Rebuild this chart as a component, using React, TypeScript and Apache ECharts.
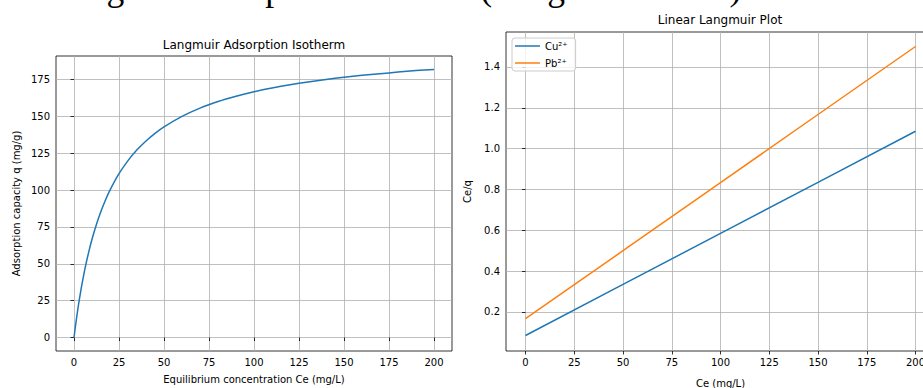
import React, { useEffect, useRef } from "react";
import * as echarts from "echarts";

const mainTitle = "Drawing 2 - Adsorption isotherm (Langmuir model)";
const leftTitle = "Langmuir Adsorption Isotherm";
const rightTitle = "Linear Langmuir Plot";

// Left panel: isotherm curve
const ceCurve = [0, 1, 2, 3, 4, 6, 8, 10, 12.5, 15, 17.5, 20, 25, 30, 35, 40, 45, 50, 60, 70, 80, 90, 100, 110, 120, 130, 140, 150, 160, 170, 180, 190, 200];
const qCurve = [0, 9.5, 18.2, 26.1, 33.3, 46.2, 57.1, 66.7, 76.9, 85.7, 93.3, 100, 111.1, 120, 127.3, 133.3, 138.5, 142.9, 150, 155.6, 160, 163.6, 166.7, 169.2, 171.4, 173.3, 175, 176.5, 177.8, 178.9, 180, 181, 181.8];

// Right panel: linearized lines
const ceLinear = [0, 50, 100, 150, 200];
const cuRatio = [0.085, 0.335, 0.585, 0.835, 1.085];
const pbRatio = [0.167, 0.5, 0.833, 1.167, 1.5];

const xTicks = [0, 25, 50, 75, 100, 125, 150, 175, 200];
const qTicks = [0, 25, 50, 75, 100, 125, 150, 175];
const ratioTicks = [0.2, 0.4, 0.6, 0.8, 1.0, 1.2, 1.4];

const seriesNames = ["Cu²⁺", "Pb²⁺"];

const FONT = "DejaVu Sans";

function axisCommon(ticks: number[], fmt?: (v: number) => string) {
  return {
    axisLine: { show: false },
    axisTick: { show: true, inside: false, length: 3.5, customValues: ticks, lineStyle: { color: "#000", width: 0.8 } },
    axisLabel: {
      show: true,
      customValues: ticks,
      margin: 6,
      color: "#000",
      fontSize: 10,
      fontFamily: FONT,
      formatter: fmt ? (v: number) => fmt(v) : undefined,
    },
    splitLine: { show: true, lineStyle: { color: "#b0b0b0", width: 0.8 } },
    nameTextStyle: { color: "#000", fontSize: 10, fontFamily: FONT },
  };
}

export default function App() {
  const ref = useRef<HTMLDivElement>(null);
  useEffect(() => {
    if (!ref.current) return;
    const chart = echarts.init(ref.current, null, { renderer: "svg" });
    const option: any = {
      animation: false,
      backgroundColor: "#fff",
      grid: [
        { left: 56, top: 56, width: 396, height: 295, show: true, borderColor: "#000", borderWidth: 0.8, backgroundColor: "transparent", outerBoundsMode: "none", containLabel: false },
        { left: 506, top: 32, width: 429, height: 319, show: true, borderColor: "#000", borderWidth: 0.8, backgroundColor: "transparent", outerBoundsMode: "none", containLabel: false },
      ],
      xAxis: [
        {
          type: "value", gridIndex: 0, min: -10, max: 210,
          name: "Equilibrium concentration Ce (mg/L)", nameLocation: "middle", nameGap: 23,
          ...axisCommon(xTicks),
        },
        {
          type: "value", gridIndex: 1, min: -10, max: 210,
          name: "Ce (mg/L)", nameLocation: "middle", nameGap: 27,
          ...axisCommon(xTicks),
        },
      ],
      yAxis: [
        {
          type: "value", gridIndex: 0, min: -9.09, max: 190.9,
          name: "Adsorption capacity q (mg/g)", nameLocation: "middle", nameGap: 35,
          ...axisCommon(qTicks),
        },
        {
          type: "value", gridIndex: 1, min: 0.009, max: 1.571,
          name: "Ce/q", nameLocation: "middle", nameGap: 34,
          ...axisCommon(ratioTicks, (v) => v.toFixed(1)),
        },
      ],
      legend: {
        orient: "vertical",
        left: 512,
        top: 38,
        data: seriesNames,
        icon: "rect",
        itemWidth: 25,
        itemHeight: 1.5,
        itemGap: 7,
        itemTextGap: 10,
        padding: [3, 8, 3, 3],
        backgroundColor: "rgba(255,255,255,0.8)",
        borderColor: "#cccccc",
        borderWidth: 1,
        borderRadius: 3,
        textStyle: { color: "#000", fontSize: 10, fontFamily: FONT },
      },
      series: [
        {
          type: "line", name: "curve", xAxisIndex: 0, yAxisIndex: 0,
          data: ceCurve.map((c, i) => [c, qCurve[i]]),
          showSymbol: false, smooth: 0.2,
          lineStyle: { color: "#1f77b4", width: 1.5 }, itemStyle: { color: "#1f77b4" },
        },
        {
          type: "line", name: seriesNames[0], xAxisIndex: 1, yAxisIndex: 1,
          data: ceLinear.map((c, i) => [c, cuRatio[i]]),
          showSymbol: false,
          lineStyle: { color: "#1f77b4", width: 1.5 }, itemStyle: { color: "#1f77b4" },
        },
        {
          type: "line", name: seriesNames[1], xAxisIndex: 1, yAxisIndex: 1,
          data: ceLinear.map((c, i) => [c, pbRatio[i]]),
          showSymbol: false,
          lineStyle: { color: "#ff7f0e", width: 1.5 }, itemStyle: { color: "#ff7f0e" },
        },
      ],
      graphic: [
        {
          type: "text", x: 0, y: -12,
          style: { text: mainTitle, fill: "#000", font: "35.5px 'Liberation Serif'", align: "left", verticalAlign: "middle" },
        },
        {
          type: "text", x: 254, y: 45,
          style: { text: leftTitle, fill: "#000", font: `12px '${FONT}'`, align: "center", verticalAlign: "middle" },
        },
        {
          type: "text", x: 720, y: 19.5,
          style: { text: rightTitle, fill: "#000", font: `12px '${FONT}'`, align: "center", verticalAlign: "middle" },
        },
      ],
    };
    chart.setOption(option);
    return () => chart.dispose();
  }, []);
  return (
    <div
      ref={ref}
      style={{ position: "absolute", left: 0, top: 0, width: 923, height: 388, background: "#fff" }}
    />
  );
}
